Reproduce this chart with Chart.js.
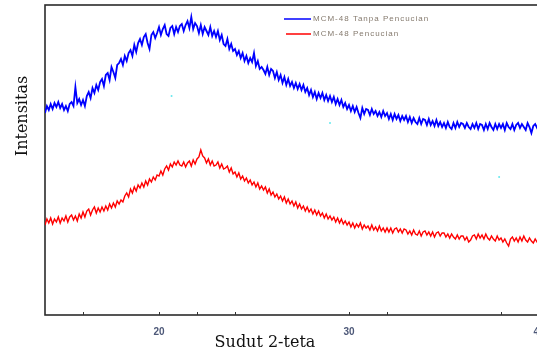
<!DOCTYPE html>
<html>
<head>
<meta charset="utf-8">
<script src="https://cdn.jsdelivr.net/npm/chart.js@4.4.0/dist/chart.umd.min.js"></script>
<style>
  html, body { margin: 0; padding: 0; background: #fff; overflow: hidden; }
  #wrap { position: absolute; left: 0; top: 0; width: 560px; height: 351px; }
</style>
</head>
<body>
<div id="wrap"><canvas id="xrdChart" width="560" height="351"></canvas></div>
<script>
// 2-theta scan: start angle and step (degrees)
const startAngle = 14.0;
const stepAngle = 0.1;

// Intensity (arbitrary units), one value per step from 14.0 to 40.0
const tanpaPencucian = [
    202, 209, 205, 211, 206, 212, 208, 213, 207, 211,
    205, 209, 204, 211, 213, 209, 228, 212, 216, 210,
    215, 209, 219, 223, 217, 227, 222, 230, 225, 233,
    236, 229, 240, 242, 235, 248, 243, 237, 250, 252,
    256, 250, 259, 254, 262, 265, 259, 270, 263, 272,
    276, 270, 278, 281, 272, 266, 280, 283, 277, 282,
    288, 280, 286, 290, 281, 279, 287, 289, 281, 288,
    283, 289, 291, 284, 290, 294, 287, 298, 286, 292,
    289, 282, 290, 281, 288, 284, 280, 288, 279, 284,
    278, 284, 275, 280, 271, 269, 276, 266, 271, 264,
    266, 260, 264, 257, 262, 254, 259, 252, 257, 253,
    262, 249, 254, 246, 248, 245, 241, 248, 240, 246,
    244, 237, 243, 235, 240, 232, 238, 230, 236, 229,
    233, 227, 232, 226, 231, 225, 230, 223, 227, 220,
    225, 218, 223, 216, 222, 217, 222, 215, 220, 214,
    219, 213, 218, 211, 216, 210, 215, 208, 212, 206,
    210, 204, 209, 203, 208, 202, 197, 207, 201, 206,
    205, 200, 206, 201, 204, 199, 203, 198, 204, 199,
    202, 196, 201, 195, 201, 196, 200, 194, 199, 195,
    199, 193, 198, 192, 197, 193, 191, 197, 191, 196,
    195, 190, 196, 190, 194, 189, 195, 189, 193, 188,
    192, 187, 193, 188, 186, 192, 187, 193, 188, 192,
    191, 187, 192, 188, 186, 191, 187, 192, 186, 191,
    190, 185, 191, 186, 192, 188, 185, 191, 186, 191,
    187, 191, 185, 192, 188, 186, 191, 185, 190, 192,
    187, 191, 188, 185, 192, 188, 182, 189, 191, 187,
    189
];

const pencucian = [
    90, 96, 92, 97, 91, 96, 93, 98, 92, 97,
    94, 99, 93, 98, 100, 95, 99, 94, 101, 97,
    103, 98, 104, 106, 100, 105, 108, 102, 107, 103,
    108, 104, 109, 105, 111, 107, 112, 108, 114, 111,
    115, 113, 119, 122, 118, 126, 122, 128, 124, 130,
    127, 132, 128, 134, 130, 136, 133, 138, 135, 140,
    139, 144, 140, 146, 149, 145, 151, 148, 153, 150,
    154, 150, 149, 153, 148, 152, 154, 149, 155, 151,
    156, 158, 165, 159, 157, 152, 156, 150, 154, 149,
    150, 153, 147, 151, 146, 147, 149, 143, 147, 141,
    143, 138, 142, 136, 139, 134, 137, 132, 135, 130,
    133, 128, 132, 126, 129, 125, 128, 122, 126, 120,
    123, 118, 121, 116, 119, 114, 118, 112, 116, 111,
    114, 109, 113, 107, 111, 106, 109, 104, 108, 103,
    106, 101, 105, 100, 104, 99, 102, 97, 101, 96,
    99, 95, 98, 93, 97, 92, 96, 91, 94, 90,
    93, 88, 92, 87, 91, 88, 92, 86, 90, 87,
    89, 85, 90, 85, 88, 84, 89, 84, 87, 83,
    87, 83, 87, 82, 86, 87, 83, 86, 82, 86,
    85, 81, 84, 80, 85, 81, 80, 84, 79, 83,
    84, 80, 83, 79, 83, 78, 82, 83, 79, 82,
    82, 78, 81, 77, 81, 78, 76, 80, 76, 79,
    79, 75, 78, 73, 75, 79, 80, 76, 81, 77,
    80, 76, 81, 77, 75, 79, 76, 74, 79, 75,
    77, 73, 76, 72, 69, 76, 78, 74, 77, 73,
    78, 74, 79, 75, 73, 77, 74, 72, 76, 73,
    74
];

// stray specks in the plot area
const speckAngles = [20.66, 29.0, 37.9];
const speckCounts = [219, 192, 138];

const seriesLabels = ['MCM-48 Tanpa Pencucian', 'MCM-48 Pencucian'];
const tickValues = [16, 20, 22, 24, 30, 32, 38, 40];
const labelledTicks = [20, 30, 40];

const toPoints = arr => arr.map((v, i) => ({ x: +(startAngle + i * stepAngle).toFixed(1), y: v }));

// frame, inward tick marks, axis titles and legend
const decorations = {
    id: 'decorations',
    beforeDatasetsDraw(chart) {
        const { ctx, chartArea: a, scales } = chart;
        ctx.save();
        ctx.strokeStyle = '#2b2b2b';
        ctx.lineWidth = 1.6;
        ctx.strokeRect(a.left, a.top, a.right - a.left, a.bottom - a.top);
        ctx.lineWidth = 1;
        ctx.strokeStyle = '#333';
        scales.x.ticks.forEach(t => {
            const px = Math.round(scales.x.getPixelForValue(t.value)) + 0.5;
            ctx.beginPath();
            ctx.moveTo(px, a.bottom);
            ctx.lineTo(px, a.bottom - 3);
            ctx.stroke();
        });
        ctx.restore();
    },
    afterDraw(chart) {
        const { ctx } = chart;
        ctx.save();
        ctx.fillStyle = '#111';
        ctx.font = '16px "DejaVu Serif"';
        ctx.textAlign = 'center';
        ctx.textBaseline = 'alphabetic';
        ctx.fillText('Sudut 2-teta', 265, 347);
        ctx.translate(27, 116);
        ctx.rotate(-Math.PI / 2);
        ctx.fillText('Intensitas', 0, 0);
        ctx.restore();

        // legend
        ctx.save();
        ctx.font = '8px "Liberation Sans"';
        ctx.letterSpacing = '1px';
        ctx.textBaseline = 'middle';
        ctx.textAlign = 'left';
        const rows = [19, 34];
        chart.data.datasets.slice(0, 2).forEach((ds, i) => {
            ctx.strokeStyle = ds.borderColor;
            ctx.lineWidth = 1.5;
            ctx.beginPath();
            ctx.moveTo(284 + i * 2, rows[i]);
            ctx.lineTo(311, rows[i]);
            ctx.stroke();
            ctx.fillStyle = '#857a6e';
            ctx.fillText(ds.label, 313, rows[i] - 0.5);
        });
        ctx.restore();
    }
};

new Chart(document.getElementById('xrdChart'), {
    type: 'line',
    data: {
        datasets: [
            {
                label: seriesLabels[0],
                data: toPoints(tanpaPencucian),
                borderColor: '#0000ff',
                borderWidth: 1.8,
                pointRadius: 0,
                tension: 0
            },
            {
                label: seriesLabels[1],
                data: toPoints(pencucian),
                borderColor: '#ff0000',
                borderWidth: 1.4,
                pointRadius: 0,
                tension: 0
            },
            {
                label: 'specks',
                data: speckAngles.map((x, i) => ({ x: x, y: speckCounts[i] })),
                showLine: false,
                pointRadius: 1,
                pointBorderWidth: 0,
                pointBackgroundColor: '#66e8ee'
            }
        ]
    },
    options: {
        responsive: false,
        animation: false,
        layout: { padding: { top: 5, right: 21, left: 0, bottom: 0 } },
        plugins: {
            legend: { display: false },
            tooltip: { enabled: false }
        },
        scales: {
            x: {
                type: 'linear',
                min: 14,
                max: 40,
                grid: { display: false },
                border: { display: false },
                afterBuildTicks: scale => {
                    scale.ticks = tickValues.map(v => ({ value: v }));
                },
                afterFit: scale => { scale.height = 36; },
                ticks: {
                    autoSkip: false,
                    maxRotation: 0,
                    padding: 3,
                    color: '#4d5878',
                    font: { family: '"Liberation Sans"', size: 10, weight: 'bold' },
                    callback: v => labelledTicks.includes(v) ? String(v) : ''
                }
            },
            y: {
                min: 0,
                max: 310,
                grid: { display: false },
                border: { display: false },
                ticks: { display: false },
                afterFit: scale => { scale.width = 45; }
            }
        }
    },
    plugins: [decorations]
});
</script>
</body>
</html>
